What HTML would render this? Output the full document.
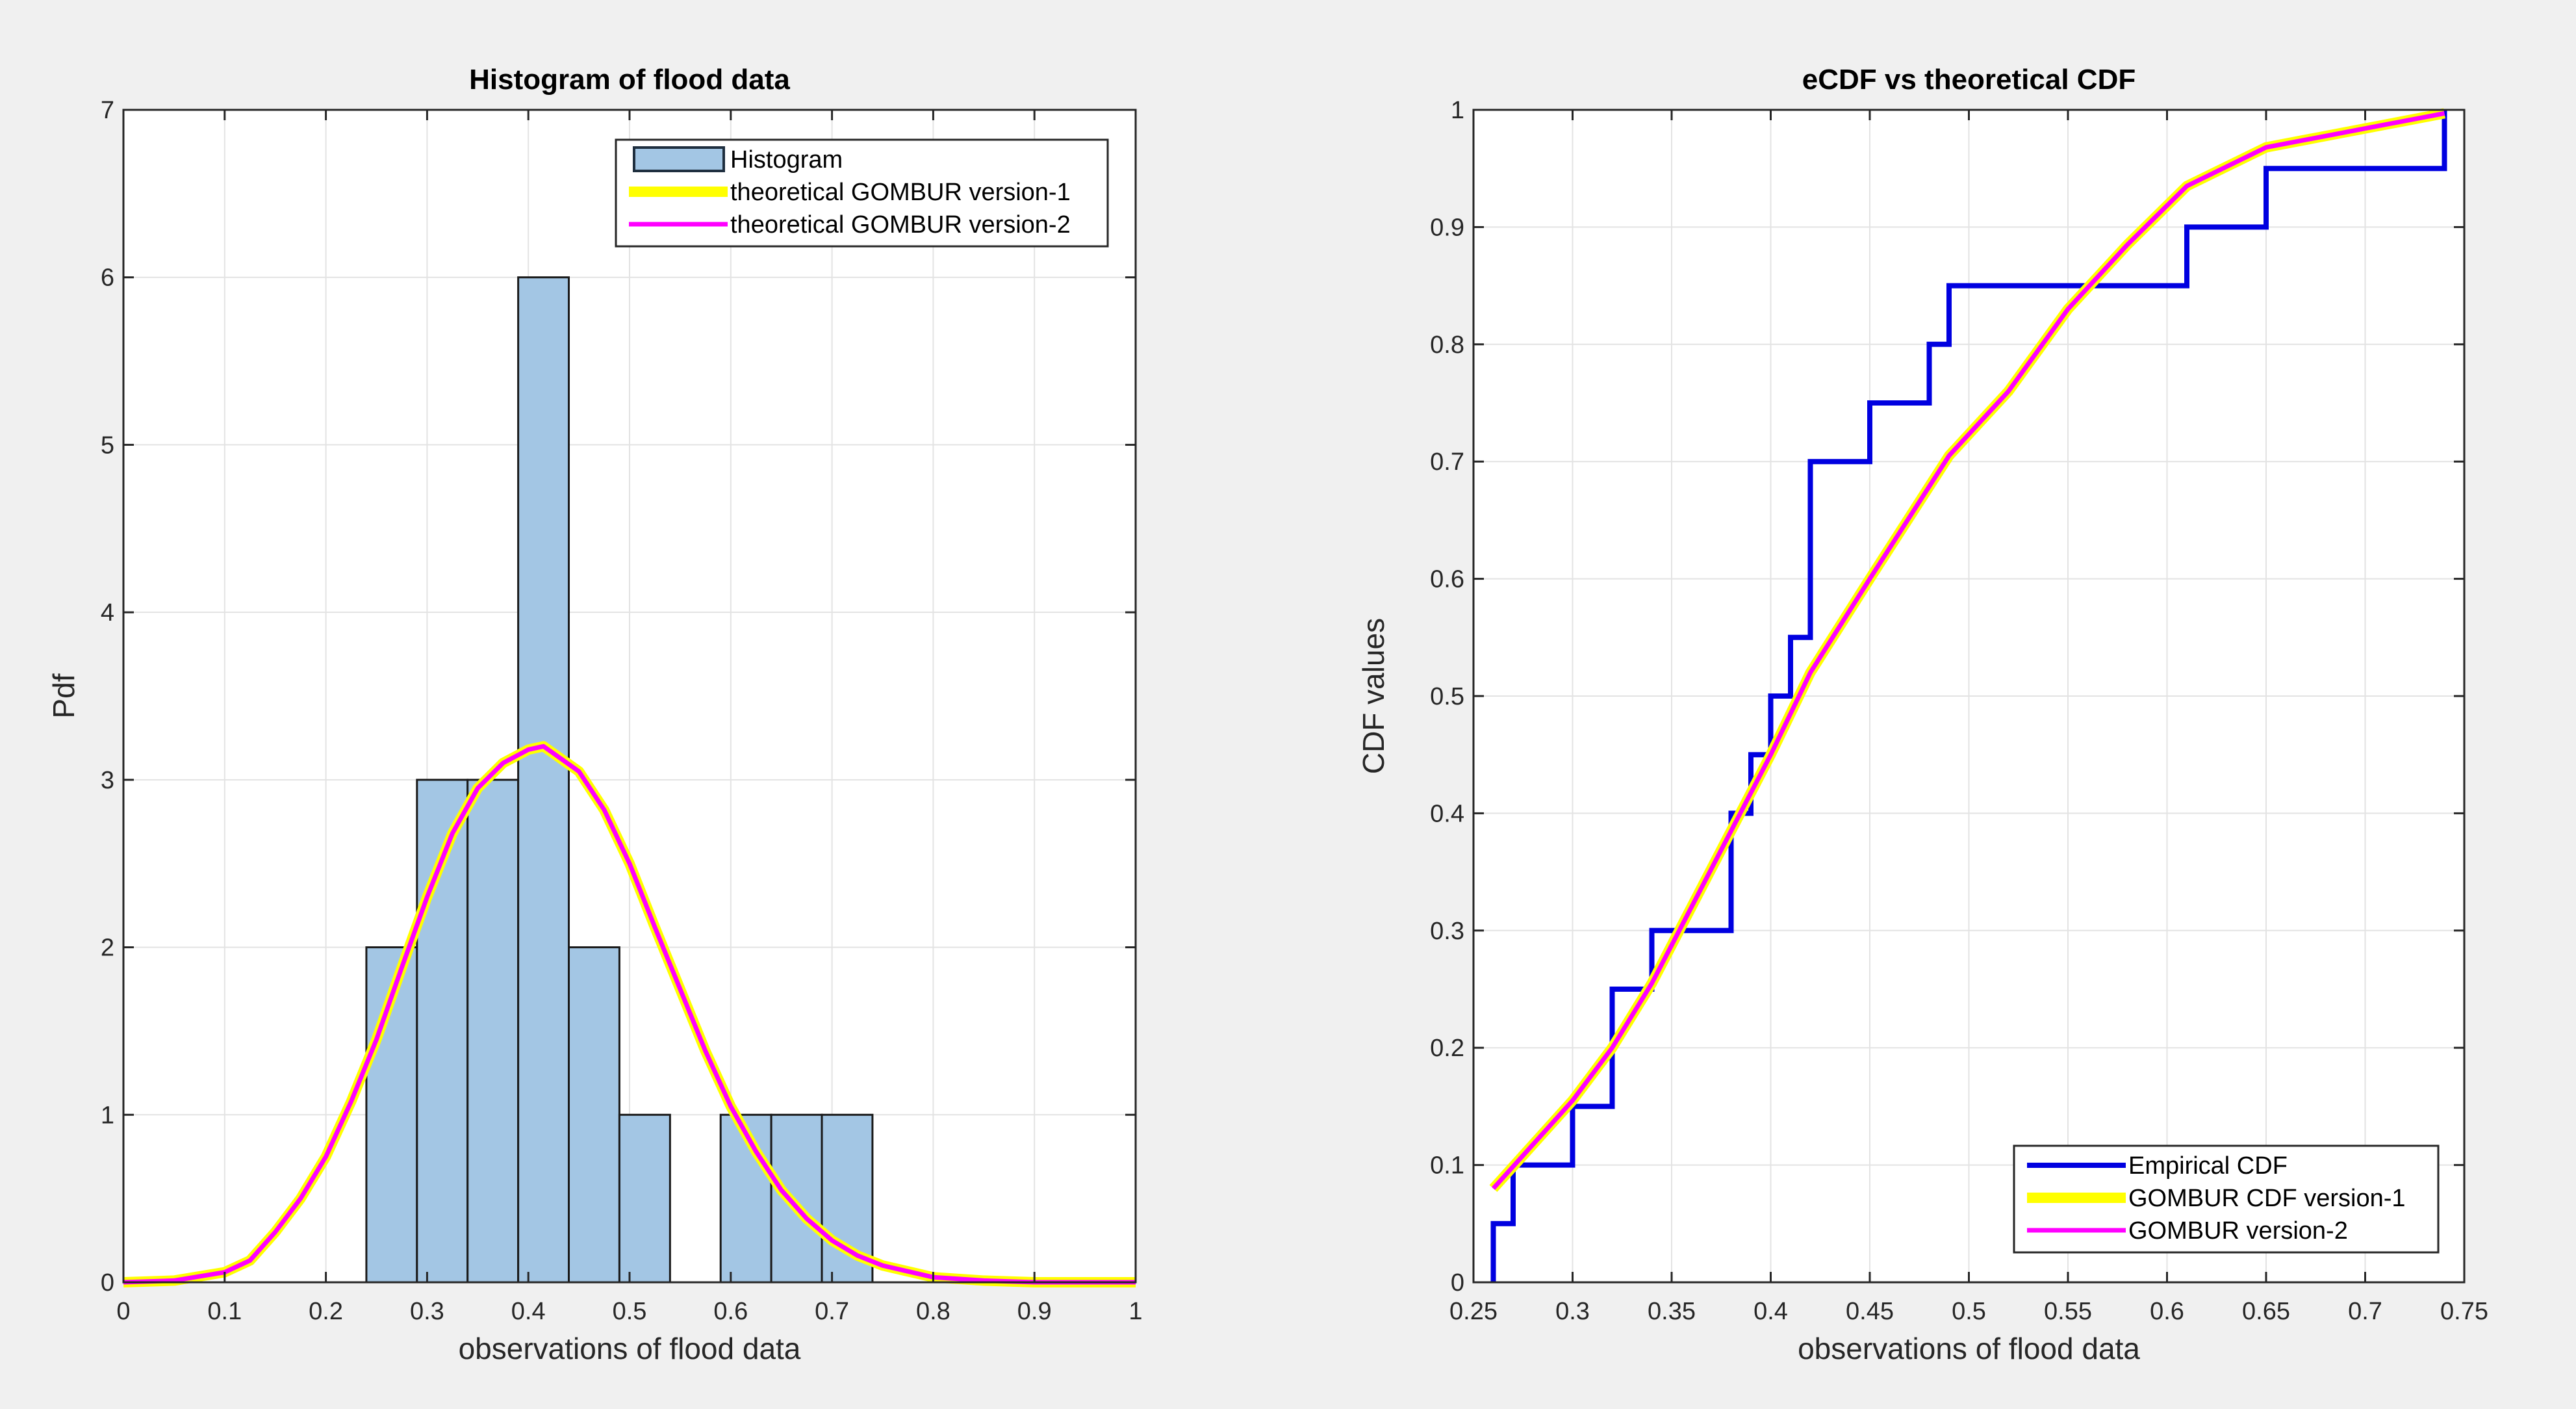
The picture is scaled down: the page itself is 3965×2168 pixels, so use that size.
<!DOCTYPE html>
<html><head><meta charset="utf-8"><style>
html,body{margin:0;padding:0;background:#f0f0f0;}
svg{display:block;font-family:"Liberation Sans",sans-serif;}
</style></head><body>
<svg id="fig" width="3965" height="2168" viewBox="0 0 3965 2168" xmlns="http://www.w3.org/2000/svg">
<rect x="0" y="0" width="3965" height="2168" fill="#f0f0f0"/>
<g id="left"></g>
<g id="right"></g>
</svg>
<script>
// ---- Histogram data ----
const histEdges = [0.24,0.29,0.34,0.39,0.44,0.49,0.54,0.59,0.64,0.69,0.74];
const histCounts = [2,3,3,6,2,1,0,1,1,1];
const pdfX = [0,0.05,0.1,0.125,0.15,0.175,0.2,0.225,0.25,0.275,0.3,0.325,0.35,0.375,0.4,0.415,0.45,0.475,0.5,0.525,0.55,0.575,0.6,0.625,0.65,0.675,0.7,0.725,0.75,0.8,0.85,0.9,1];
const pdfY = [0,0.01,0.06,0.13,0.3,0.5,0.75,1.08,1.45,1.88,2.3,2.68,2.95,3.1,3.18,3.2,3.05,2.82,2.5,2.12,1.75,1.38,1.05,0.78,0.55,0.38,0.25,0.16,0.1,0.03,0.01,0,0];
const histXTicks = [0,0.1,0.2,0.3,0.4,0.5,0.6,0.7,0.8,0.9,1];
const histYTicks = [0,1,2,3,4,5,6,7];
// ---- CDF data ----
const ecdfX = [0.26,0.27,0.30,0.32,0.34,0.38,0.39,0.40,0.41,0.42,0.45,0.48,0.49,0.61,0.65,0.74];
const ecdfY = [0.05,0.10,0.15,0.25,0.30,0.40,0.45,0.50,0.55,0.70,0.75,0.80,0.85,0.90,0.95,1.00];
const cdfX = [0.26,0.30,0.32,0.34,0.36,0.38,0.40,0.42,0.45,0.49,0.52,0.55,0.58,0.61,0.65,0.74];
const cdfY = [0.08,0.155,0.2,0.255,0.32,0.385,0.45,0.52,0.6,0.705,0.76,0.83,0.885,0.935,0.968,0.997];
const cdfXTicks = [0.25,0.3,0.35,0.4,0.45,0.5,0.55,0.6,0.65,0.7,0.75];
const cdfYTicks = [0,0.1,0.2,0.3,0.4,0.5,0.6,0.7,0.8,0.9,1];

const NS="http://www.w3.org/2000/svg";
function mk(parent,tag,attrs,text){const e=document.createElementNS(NS,tag);for(const k in attrs)e.setAttribute(k,attrs[k]);if(text!==undefined)e.textContent=text;parent.appendChild(e);return e;}

function axes(g,L,R,T,B,x0,x1,y0,y1,xt,yt,title,xl,yl,ylx){
  const sx=v=>L+(v-x0)/(x1-x0)*(R-L);
  const sy=v=>B-(v-y0)/(y1-y0)*(B-T);
  const bg=mk(g,'rect',{x:L,y:T,width:R-L,height:B-T,fill:'#fff'});
  
  
  xt.forEach(v=>{const l=mk(g,'line',{x1:sx(v),x2:sx(v),y1:T,y2:B,stroke:'#e3e3e3','stroke-width':2});
    
    });
  yt.forEach(v=>{const l=mk(g,'line',{x1:L,x2:R,y1:sy(v),y2:sy(v),stroke:'#e3e3e3','stroke-width':2});
    
    });
  return {sx,sy,finish(){
    const fr=mk(g,'rect',{x:L,y:T,width:R-L,height:B-T,fill:'none',stroke:'#262626','stroke-width':3});
    
    
    xt.forEach(v=>{mk(g,'line',{x1:sx(v),x2:sx(v),y1:B,y2:B-16,stroke:'#262626','stroke-width':3});
      mk(g,'line',{x1:sx(v),x2:sx(v),y1:T,y2:T+16,stroke:'#262626','stroke-width':3});
      const t=mk(g,'text',{x:sx(v),y:B+57,'font-size':38,'text-anchor':'middle',fill:'#262626'},String(v));
      
      });
    yt.forEach(v=>{mk(g,'line',{x1:L,x2:L+16,y1:sy(v),y2:sy(v),stroke:'#262626','stroke-width':3});
      mk(g,'line',{x1:R,x2:R-16,y1:sy(v),y2:sy(v),stroke:'#262626','stroke-width':3});
      const t=mk(g,'text',{x:L-14,y:sy(v)+13,'font-size':38,'text-anchor':'end',fill:'#262626'},String(v));
      
      });
    const tt=mk(g,'text',{x:(L+R)/2,y:T-32,'font-size':44,'font-weight':'bold','text-anchor':'middle',fill:'#000'},title);
    
    
    const xa=mk(g,'text',{x:(L+R)/2,y:B+118,'font-size':46,'text-anchor':'middle',fill:'#262626'},xl);
    
    
    const ya=mk(g,'text',{x:0,y:0,'font-size':46,'text-anchor':'middle',fill:'#262626',transform:`translate(${ylx},${(T+B)/2}) rotate(-90)`},yl);
    
    
  }};
}

function legend(g,x,y,w,h,items){
  const box=mk(g,'rect',{x,y,width:w,height:h,fill:'#fff',stroke:'#262626','stroke-width':3});
  
  
  items.forEach((it,i)=>{
    const cy=y+30+i*50;
    if(it.type==='patch'){mk(g,'rect',{x:x+28,y:cy-18,width:138,height:36,fill:'#a3c6e4',stroke:'#1f2f3f','stroke-width':4});}
    else mk(g,'line',{x1:x+20,x2:x+172,y1:cy,y2:cy,stroke:it.color,'stroke-width':it.w});
    const t=mk(g,'text',{x:x+176,y:cy+13,'font-size':38,fill:'#000'},it.label);
    
    
  });
}

// ---- Left chart ----
const gl=document.getElementById('left');
const A=axes(gl,190,1748,169,1973,0,1,0,7,histXTicks,histYTicks,'Histogram of flood data','observations of flood data','Pdf',114);
histCounts.forEach((c,i)=>{
  if(c<=0)return;
  const r=mk(gl,'rect',{x:A.sx(histEdges[i]),y:A.sy(c),width:A.sx(histEdges[i+1])-A.sx(histEdges[i]),height:A.sy(0)-A.sy(c),fill:'#a3c6e4',stroke:'#1a1a1a','stroke-width':3});
  
  
});
const pdfPts=pdfX.map((x,i)=>A.sx(x)+','+A.sy(pdfY[i])).join(' ');
const p1=mk(gl,'polyline',{points:pdfPts,fill:'none',stroke:'#ffff00','stroke-width':16,'stroke-linejoin':'round'});


const p2=mk(gl,'polyline',{points:pdfPts,fill:'none',stroke:'#ff00ff','stroke-width':7,'stroke-linejoin':'round'});


A.finish();
legend(gl,948,215,757,164,[{type:'patch',label:'Histogram'},{color:'#ffff00',w:16,label:'theoretical GOMBUR version-1'},{color:'#ff00ff',w:7,label:'theoretical GOMBUR version-2'}]);

// ---- Right chart ----
const gr=document.getElementById('right');
const B=axes(gr,2268,3793,169,1973,0.25,0.75,0,1,cdfXTicks,cdfYTicks,'eCDF vs theoretical CDF','observations of flood data','CDF values',2130);
let pts=[[ecdfX[0],0]];
ecdfX.forEach((x,i)=>{pts.push([x,ecdfY[i]]);if(i+1<ecdfX.length)pts.push([ecdfX[i+1],ecdfY[i]]);});
const e=mk(gr,'polyline',{points:pts.map(p=>B.sx(p[0])+','+B.sy(p[1])).join(' '),fill:'none',stroke:'#0000e0','stroke-width':8});


const cPts=cdfX.map((x,i)=>B.sx(x)+','+B.sy(cdfY[i])).join(' ');
const c1=mk(gr,'polyline',{points:cPts,fill:'none',stroke:'#ffff00','stroke-width':16,'stroke-linejoin':'round'});


const c2=mk(gr,'polyline',{points:cPts,fill:'none',stroke:'#ff00ff','stroke-width':7,'stroke-linejoin':'round'});


B.finish();
legend(gr,3100,1763,653,164,[{color:'#0000e0',w:8,label:'Empirical CDF'},{color:'#ffff00',w:16,label:'GOMBUR CDF version-1'},{color:'#ff00ff',w:7,label:'GOMBUR version-2'}]);
</script>
</body></html>
